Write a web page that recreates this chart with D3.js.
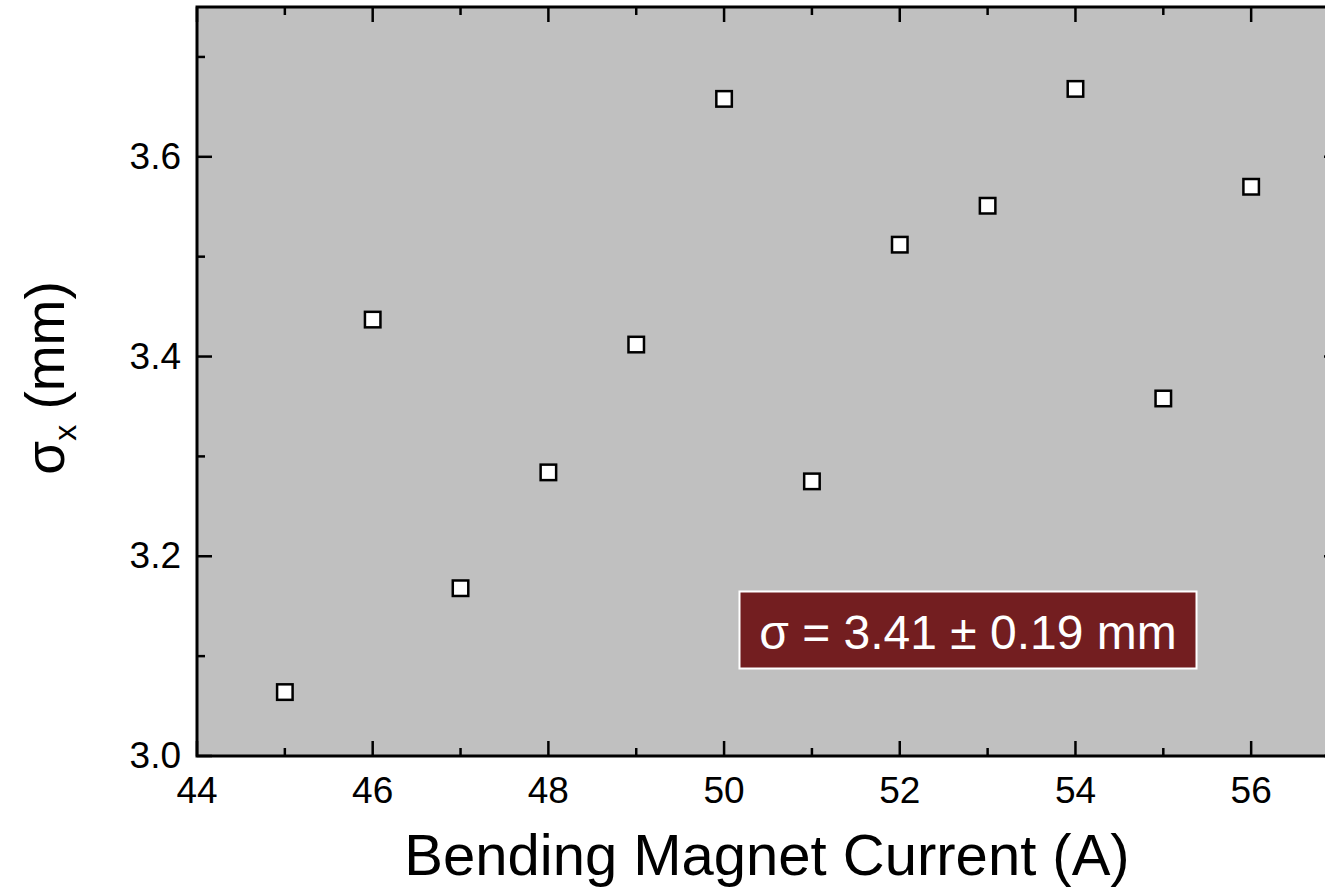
<!DOCTYPE html>
<html>
<head>
<meta charset="utf-8">
<script src="https://cdn.jsdelivr.net/npm/d3@7"></script>
<style>
  html, body { margin: 0; padding: 0; background: #fff; }
  svg { display: block; }
  text { font-family: "Liberation Sans", Arial, sans-serif; }
</style>
</head>
<body>
<svg id="chart" width="1325" height="888"></svg>
<script>
// Beam width sigma_x measured at each bending magnet current setting
const currents = [45, 46, 47, 48, 49, 50, 51, 52, 53, 54, 55, 56];
const sigmaX   = [3.064, 3.437, 3.168, 3.284, 3.412, 3.658, 3.275, 3.512, 3.551, 3.668, 3.358, 3.570];
const xTicks = [44, 46, 48, 50, 52, 54, 56];
const yTicks = [3.0, 3.2, 3.4, 3.6];
const xMinorTicks = [45, 47, 49, 51, 53, 55, 57];
const yMinorTicks = [3.1, 3.3, 3.5, 3.7];
const summaryLabel = "σ = 3.41 ± 0.19 mm";

(function () {
  const svg = d3.select("#chart");
  const pl = 197, pr = 1339, pt = 7, pb = 756;

  const x = d3.scaleLinear().domain([44, 57]).range([pl, pr]);
  const y = d3.scaleLinear().domain([3.0, 3.75]).range([pb, pt]);

  // plot background
  svg.append("rect")
    .attr("x", pl).attr("y", pt)
    .attr("width", pr - pl).attr("height", pb - pt)
    .attr("fill", "#c0c0c0");

  const majorLen = 15, minorLen = 8;
  const ticks = svg.append("g").attr("stroke", "#000").attr("stroke-width", 2.5);

  function vTicks(vals, len) {
    vals.forEach(v => {
      ticks.append("line").attr("x1", x(v)).attr("x2", x(v)).attr("y1", pb).attr("y2", pb - len);
      ticks.append("line").attr("x1", x(v)).attr("x2", x(v)).attr("y1", pt).attr("y2", pt + len);
    });
  }
  function hTicks(vals, len) {
    vals.forEach(v => {
      ticks.append("line").attr("y1", y(v)).attr("y2", y(v)).attr("x1", pl).attr("x2", pl + len);
      ticks.append("line").attr("y1", y(v)).attr("y2", y(v)).attr("x1", pr).attr("x2", pr - len);
    });
  }
  vTicks(xTicks, majorLen); vTicks(xMinorTicks, minorLen);
  hTicks(yTicks, majorLen); hTicks(yMinorTicks, minorLen);

  // frame
  svg.append("rect")
    .attr("x", pl).attr("y", pt)
    .attr("width", pr - pl).attr("height", pb - pt)
    .attr("fill", "none").attr("stroke", "#000").attr("stroke-width", 3);

  // tick labels
  svg.append("g").selectAll("text").data(xTicks).join("text")
    .attr("x", d => x(d)).attr("y", 803)
    .attr("text-anchor", "middle")
    .attr("font-size", 37)
    .text(d => d);

  svg.append("g").selectAll("text").data(yTicks).join("text")
    .attr("x", 181).attr("y", d => y(d) + 12)
    .attr("text-anchor", "end")
    .attr("font-size", 37)
    .text(d => d.toFixed(1));

  // axis titles
  svg.append("text")
    .attr("x", 767).attr("y", 875)
    .attr("text-anchor", "middle")
    .attr("font-size", 58)
    .text("Bending Magnet Current (A)");

  const yt = svg.append("text")
    .attr("transform", "translate(64,378) rotate(-90)")
    .attr("text-anchor", "middle")
    .attr("font-size", 55);
  yt.append("tspan").text("σ");
  yt.append("tspan").attr("font-size", 32).attr("dy", 12).text("x");
  yt.append("tspan").attr("dy", -12).text(" (mm)");

  // data markers
  svg.append("g").selectAll("rect").data(currents.map((c, i) => [c, sigmaX[i]])).join("rect")
    .attr("x", d => x(d[0]) - 7.75).attr("y", d => y(d[1]) - 7.75)
    .attr("width", 15.5).attr("height", 15.5)
    .attr("fill", "#fff").attr("stroke", "#000").attr("stroke-width", 2.5);

  // summary box
  svg.append("rect")
    .attr("x", 739.5).attr("y", 591.5).attr("width", 457).attr("height", 77)
    .attr("fill", "#731e20").attr("stroke", "#fff").attr("stroke-width", 2);
  svg.append("text")
    .attr("x", 968).attr("y", 649)
    .attr("text-anchor", "middle")
    .attr("font-size", 48)
    .attr("fill", "#fff")
    .text(summaryLabel);
})();
</script>
</body>
</html>
